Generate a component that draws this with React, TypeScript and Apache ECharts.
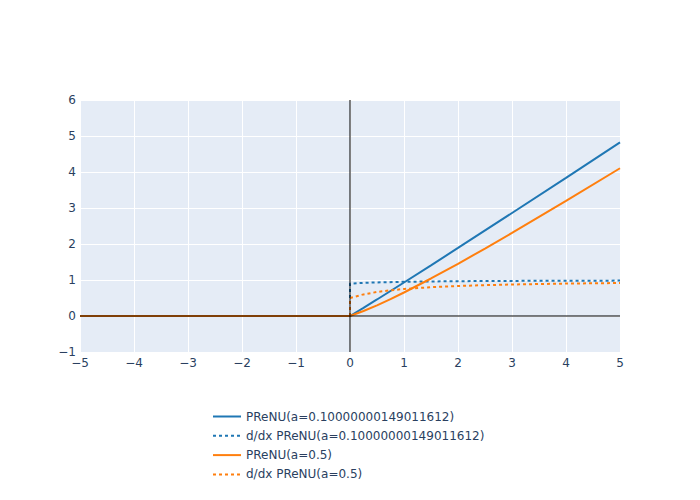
import React, { useEffect, useRef } from "react";
import * as echarts from "echarts";

const xTicks = [-5, -4, -3, -2, -1, 0, 1, 2, 3, 4, 5];
const yTicks = [-1, 0, 1, 2, 3, 4, 5, 6];

const seriesNames = [
  "PReNU(a=0.10000000149011612)",
  "d/dx PReNU(a=0.10000000149011612)",
  "PReNU(a=0.5)",
  "d/dx PReNU(a=0.5)",
];

// x positions sampled along the curves (0 repeated for the jump of the derivative)
const xFnA = [-5, 0, 0.25, 0.5, 1, 1.5, 2, 3, 4, 5];
const yFnA = [0, 0, 0.228, 0.459, 0.931, 1.408, 1.89, 2.861, 3.839, 4.821];
const xDerA = [-5, 0, 0, 0.25, 0.5, 1, 1.5, 2, 3, 4, 5];
const yDerA = [0, 0, 0.9, 0.92, 0.933, 0.95, 0.96, 0.967, 0.975, 0.98, 0.983];

const xFnB = [-5, 0, 0.25, 0.5, 0.75, 1, 1.5, 2, 2.5, 3, 4, 5];
const yFnB = [0, 0, 0.138, 0.297, 0.47, 0.653, 1.042, 1.451, 1.874, 2.307, 3.195, 4.104];
const xDerB = [-5, 0, 0, 0.25, 0.5, 0.75, 1, 1.5, 2, 2.5, 3, 4, 5];
const yDerB = [0, 0, 0.5, 0.6, 0.667, 0.714, 0.75, 0.8, 0.833, 0.857, 0.875, 0.9, 0.917];

const colors = ["#1f77b4", "#1f77b4", "#ff7f0e", "#ff7f0e"];
const dotted = [false, true, false, true];

const zip = (xs: number[], ys: number[]) => xs.map((x, i) => [x, ys[i]]);

export default function App() {
  const ref = useRef<HTMLDivElement>(null);
  useEffect(() => {
    if (!ref.current) return;
    const chart = echarts.init(ref.current, undefined, { renderer: "svg" });
    const font = "'DejaVu Sans', Verdana, sans-serif";
    const txt = "#2a3f5f";
    const datasets = [
      zip(xFnA, yFnA),
      zip(xDerA, yDerA),
      zip(xFnB, yFnB),
      zip(xDerB, yDerB),
    ];
    const fmt = (v: number) => String(v).replace("-", "\u2212");
    chart.setOption({
      animation: false,
      backgroundColor: "#ffffff",
      grid: { left: 80, right: 80, top: 100, bottom: 148, containLabel: false, backgroundColor: "#E5ECF6", show: true, borderWidth: 0 },
      xAxis: {
        type: "value",
        min: xTicks[0],
        max: xTicks[xTicks.length - 1],
        interval: 1,
        axisLine: { show: false },
        axisTick: { show: false },
        splitLine: { show: true, lineStyle: { color: "#ffffff", width: 1 } },
        axisLabel: { color: txt, fontFamily: font, fontSize: 12, margin: 5, formatter: fmt },
      },
      yAxis: {
        type: "value",
        min: yTicks[0],
        max: yTicks[yTicks.length - 1],
        interval: 1,
        axisLine: { show: false },
        axisTick: { show: false },
        splitLine: { show: true, lineStyle: { color: "#ffffff", width: 1 } },
        axisLabel: { color: txt, fontFamily: font, fontSize: 12, margin: 4, formatter: fmt },
      },
      legend: {
        orient: "vertical",
        left: 207,
        top: 404,
        itemWidth: 28,
        itemHeight: 14,
        itemGap: 4.3,
        data: seriesNames,
        itemStyle: { opacity: 0 },
        textStyle: { color: txt, fontFamily: font, fontSize: 12, lineHeight: 15 },
      },
      series: [
        ...seriesNames.map((name, i) => ({
          name,
          type: "line",
          data: datasets[i],
          z: 3 + i,
          showSymbol: false,
          symbol: "none",
          color: colors[i],
          lineStyle: { color: colors[i], width: 2, type: dotted[i] ? [3, 3] : "solid" },
          emphasis: { disabled: true },
        })),
        {
          name: "zero",
          type: "line",
          data: [],
          z: 20,
          markLine: {
            silent: true,
            z: 20,
            symbol: "none",
            label: { show: false },
            lineStyle: { color: "rgba(0,0,0,0.5)", width: 2, type: "solid" },
            data: [{ xAxis: 0 }, { yAxis: 0 }],
          },
        },
      ],
    });
    return () => chart.dispose();
  }, []);
  return <div ref={ref} style={{ width: 700, height: 500, margin: -8 }} />;
}
